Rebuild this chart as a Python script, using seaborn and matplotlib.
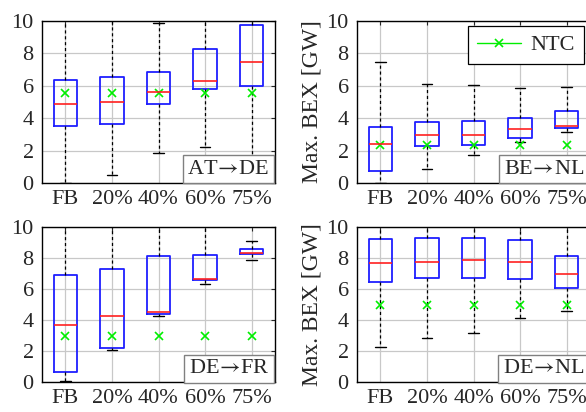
import numpy as np
import pandas as pd
import matplotlib
matplotlib.use("Agg")
import matplotlib.pyplot as plt
import seaborn as sns
from matplotlib.lines import Line2D

categories = ["FB", "20%", "40%", "60%", "75%"]

# five-number summaries per panel: lower whisker, q1, median, q3, upper whisker
at_de_low = [0.02, 0.52, 1.86, 2.23, 1.50]
at_de_q1 = [3.54, 3.63, 4.86, 5.79, 6.01]
at_de_med = [4.90, 5.03, 5.60, 6.28, 7.49]
at_de_q3 = [6.38, 6.53, 6.86, 8.28, 9.76]
at_de_high = [10.3, 10.3, 9.84, 10.3, 10.3]
at_de_ntc = [5.54, 5.54, 5.54, 5.54, 5.54]

be_nl_low = [0.03, 0.85, 1.72, 2.52, 3.14]
be_nl_q1 = [0.73, 2.27, 2.35, 2.77, 3.42]
be_nl_med = [2.43, 2.95, 2.97, 3.32, 3.54]
be_nl_q3 = [3.46, 3.79, 3.83, 4.04, 4.43]
be_nl_high = [7.47, 6.12, 6.07, 5.89, 5.95]
be_nl_ntc = [2.33, 2.33, 2.33, 2.33, 2.33]

de_fr_low = [0.08, 2.08, 4.26, 6.32, 7.91]
de_fr_q1 = [0.66, 2.21, 4.43, 6.60, 8.26]
de_fr_med = [3.68, 4.28, 4.54, 6.69, 8.34]
de_fr_q3 = [6.94, 7.29, 8.13, 8.19, 8.58]
de_fr_high = [10.3, 10.3, 10.3, 10.3, 9.10]
de_fr_ntc = [3.01, 3.01, 3.01, 3.01, 3.01]

de_nl_low = [2.26, 2.88, 3.16, 4.15, 4.58]
de_nl_q1 = [6.45, 6.71, 6.75, 6.65, 6.10]
de_nl_med = [7.72, 7.74, 7.89, 7.74, 6.98]
de_nl_q3 = [9.25, 9.29, 9.33, 9.16, 8.13]
de_nl_high = [10.3, 10.3, 10.3, 10.3, 10.3]
de_nl_ntc = [5.01, 5.01, 5.01, 5.01, 5.01]

ARROW = "$\\!\\rightarrow\\!$"
panels = [
    ("AT" + ARROW + "DE", at_de_low, at_de_q1, at_de_med, at_de_q3, at_de_high, at_de_ntc),
    ("BE" + ARROW + "NL", be_nl_low, be_nl_q1, be_nl_med, be_nl_q3, be_nl_high, be_nl_ntc),
    ("DE" + ARROW + "FR", de_fr_low, de_fr_q1, de_fr_med, de_fr_q3, de_fr_high, de_fr_ntc),
    ("DE" + ARROW + "NL", de_nl_low, de_nl_q1, de_nl_med, de_nl_q3, de_nl_high, de_nl_ntc),
]

sns.set_style("white")
plt.rcParams["font.family"] = ["Liberation Serif", "DejaVu Serif"]
plt.rcParams["mathtext.fontset"] = "stix"

W, H = 586, 412
fig = plt.figure(figsize=(W / 100, H / 100), dpi=100)

# axes rectangles in pixels: left, bottom edge (px from top), width, height
rects = [
    (42, 183.1, 233, 162.2),
    (357, 183.1, 233, 162.2),
    (42, 382.3, 233, 155.0),
    (357, 382.3, 233, 155.0),
]

GREEN = "#00ee00"
for i, (rect, panel) in enumerate(zip(rects, panels)):
    name, low, q1, med, q3, high, ntc = panel
    l, b, w, h = rect
    ax = fig.add_axes([l / W, (H - b) / H, w / W, h / H])
    rows = []
    for c, a, bq, m, d, e in zip(categories, low, q1, med, q3, high):
        for v in (a, bq, m, d, e):
            rows.append({"cat": c, "val": v})
    df = pd.DataFrame(rows)
    sns.boxplot(
        data=df, x="cat", y="val", order=categories, ax=ax,
        whis=(0, 100), fill=False, width=0.5,
        boxprops=dict(color="#1f1fff", linewidth=1.3),
        medianprops=dict(color="#ff2020", linewidth=1.2),
        whiskerprops=dict(color="black", linewidth=0.9, linestyle=(0, (2.5, 2.2))),
        capprops=dict(color="black", linewidth=1.0),
        capwidths=0.23,
        showfliers=False,
    )
    ntc_df = pd.DataFrame({"cat": categories, "ntc": ntc})
    sns.pointplot(
        data=ntc_df, x="cat", y="ntc", order=categories, ax=ax,
        color=GREEN, errorbar=None, linestyle="none", marker="x",
        markersize=6, markeredgewidth=1.2,
    )
    ax.set_xlim(-0.5, 4.5)
    ax.set_ylim(0, 10)
    ax.set_yticks([0, 2, 4, 6, 8, 10])
    ax.set_xlabel("")
    ax.set_ylabel("")
    ax.grid(True, color="#c8c8c8", linewidth=0.9)
    ax.set_axisbelow(True)
    for s in ax.spines.values():
        s.set_color("black")
        s.set_linewidth(1.0)
    ax.tick_params(direction="in", top=True, right=True, length=3, width=0.8,
                   labelsize=16, pad=6)
    ax.tick_params(axis="x", pad=5)
    if i % 2 == 1:
        ax.set_ylabel("Max. BEX [GW]", fontsize=17, labelpad=3)
    ax.text(0.975, 0.027, name, transform=ax.transAxes, ha="right", va="bottom",
            fontsize=16, zorder=10,
            bbox=dict(boxstyle="square,pad=0.2", fc="white", ec="#808080", lw=1.0))
    if i == 1:
        h_ntc = Line2D([], [], color=GREEN, marker="x", markersize=6,
                       markeredgewidth=1.2, linewidth=1.0, label="NTC")
        leg = ax.legend(handles=[h_ntc], loc="upper right", fontsize=16,
                        frameon=True, fancybox=False, edgecolor="black",
                        framealpha=1, handlelength=2.0, borderpad=0.4,
                        handletextpad=0.4, borderaxespad=0.0,
                        bbox_to_anchor=(0.973, 0.969))
        leg.get_frame().set_linewidth(0.9)

fig.savefig("out.png", dpi=100)
